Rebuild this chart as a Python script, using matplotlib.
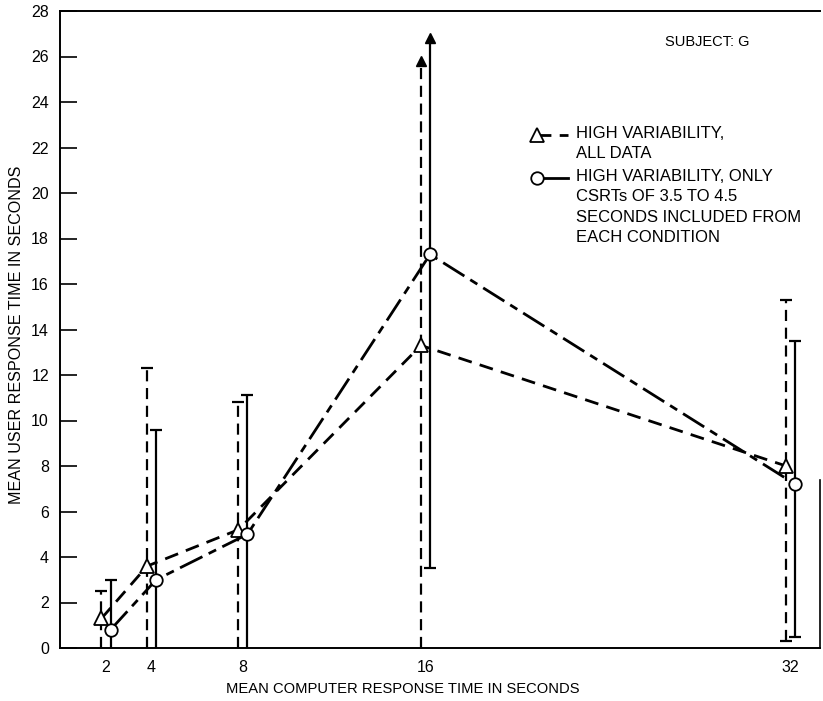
import matplotlib
matplotlib.use("Agg")
import matplotlib.pyplot as plt
import matplotlib.transforms as mtransforms
from matplotlib.lines import Line2D

plt.rcParams['font.family'] = ['Liberation Sans', 'DejaVu Sans']

# ---- data ----
crt = [2, 4, 8, 16, 32]
x_tick_labels = ["2", "4", "8", "16", "32"]
y_ticks = list(range(0, 29, 2))

all_mean = [1.3, 3.6, 5.2, 13.3, 8.0]
all_hi = [2.5, 12.3, 10.8, 25.8, 15.3]
all_lo = [0.0, 0.0, 0.0, 0.0, 0.3]

sel_mean = [0.8, 3.0, 5.0, 17.3, 7.2]
sel_hi = [3.0, 9.6, 11.1, 26.8, 13.5]
sel_lo = [0.0, 0.0, 0.0, 3.5, 0.5]

arrow_up = [False, False, False, True, False]

label_all = "HIGH VARIABILITY,\nALL DATA"
label_sel = "HIGH VARIABILITY, ONLY\nCSRTs OF 3.5 TO 4.5\nSECONDS INCLUDED FROM\nEACH CONDITION"

fig = plt.figure(figsize=(8.23, 7.01), dpi=100)
ax = fig.add_axes([60/823, 53/701, 760/823, 637/701])
ax.set_xlim(0, 33.3)
ax.set_ylim(0, 28)

def shifted(dx_pt):
    return ax.transData + mtransforms.ScaledTranslation(dx_pt/72, 0, fig.dpi_scale_trans)

tr_all = shifted(-3.0)
tr_sel = shifted(3.5)

dash_all = (0, (5, 3))
dash_sel = (0, (9, 2.5, 3, 2.5))

def draw_bars(xs, lo, hi, trans, ls, arrows):
    for xv, l, h, up in zip(xs, lo, hi, arrows):
        ax.plot([xv, xv], [l, h], color='black', lw=1.6, linestyle=ls,
                transform=trans, zorder=2, solid_capstyle='butt', clip_on=False)
        if up:
            ax.plot([xv], [h], marker='^', color='black', markersize=7,
                    transform=trans, zorder=3, clip_on=False)
        else:
            ax.plot([xv], [h], marker='_', color='black', markersize=9,
                    mew=1.6, transform=trans, zorder=3)
        if l > 0.05:
            ax.plot([xv], [l], marker='_', color='black', markersize=9,
                    mew=1.6, transform=trans, zorder=3)

draw_bars(crt, all_lo, all_hi, tr_all, dash_all, arrow_up)
draw_bars(crt, sel_lo, sel_hi, tr_sel, '-', arrow_up)

ax.plot(crt, all_mean, color='black', lw=2.0, linestyle=dash_all,
        marker='^', markersize=10, mfc='white', mec='black', mew=1.3,
        transform=tr_all, zorder=4)
ax.plot(crt, sel_mean, color='black', lw=2.0, linestyle=dash_sel,
        marker='o', markersize=9, mfc='white', mec='black', mew=1.3,
        transform=tr_sel, zorder=4)

# axes styling
for s in ['left', 'bottom', 'top']:
    ax.spines[s].set_linewidth(1.4)
ax.spines['right'].set_linewidth(1.2)
ax.spines['right'].set_bounds(0, 7.4)

ax.set_yticks(y_ticks)
ax.set_yticklabels([str(v) for v in y_ticks])
ax.set_xticks(crt)
ax.set_xticklabels(x_tick_labels)
ax.tick_params(axis='y', direction='in', length=12, width=1.2, pad=8, labelsize=11.5)
ax.tick_params(axis='x', length=0, pad=9, labelsize=11.5)
ax.tick_params(axis='y', which='both', right=False)

def fig_xy(px, py):
    return px/823, 1 - py/701

fig.text(*fig_xy(403, 689), "MEAN COMPUTER RESPONSE TIME IN SECONDS",
         fontsize=10.6, ha='center', va='center')
fig.text(*fig_xy(17, 335), "MEAN USER RESPONSE TIME IN SECONDS",
         fontsize=11.6, ha='center', va='center', rotation=90)

fig.text(*fig_xy(665, 42), "SUBJECT: G", fontsize=10.5, va='center', ha='left')

lx0, lx1 = 537, 568
ty_all = 135
ty_sel = 178
fig.add_artist(Line2D([fig_xy(lx0, 0)[0], fig_xy(lx1, 0)[0]],
                      [fig_xy(0, ty_all)[1]] * 2, transform=fig.transFigure,
                      color='black', lw=2.0, linestyle=dash_all))
fig.add_artist(Line2D([fig_xy(lx0, 0)[0]], [fig_xy(0, ty_all)[1]],
                      transform=fig.transFigure, marker='^', markersize=10,
                      mfc='white', mec='black', mew=1.3, linestyle='none'))
fig.add_artist(Line2D([fig_xy(lx0, 0)[0], fig_xy(lx1, 0)[0]],
                      [fig_xy(0, ty_sel)[1]] * 2, transform=fig.transFigure,
                      color='black', lw=2.0, linestyle='-'))
fig.add_artist(Line2D([fig_xy(lx0, 0)[0]], [fig_xy(0, ty_sel)[1]],
                      transform=fig.transFigure, marker='o', markersize=9,
                      mfc='white', mec='black', mew=1.3, linestyle='none'))

fig.text(*fig_xy(576, ty_all - 9), label_all, fontsize=12, va='top', ha='left',
         linespacing=1.45)
fig.text(*fig_xy(576, ty_sel - 9), label_sel, fontsize=12, va='top', ha='left',
         linespacing=1.45)

fig.savefig("out.png", dpi=100)
